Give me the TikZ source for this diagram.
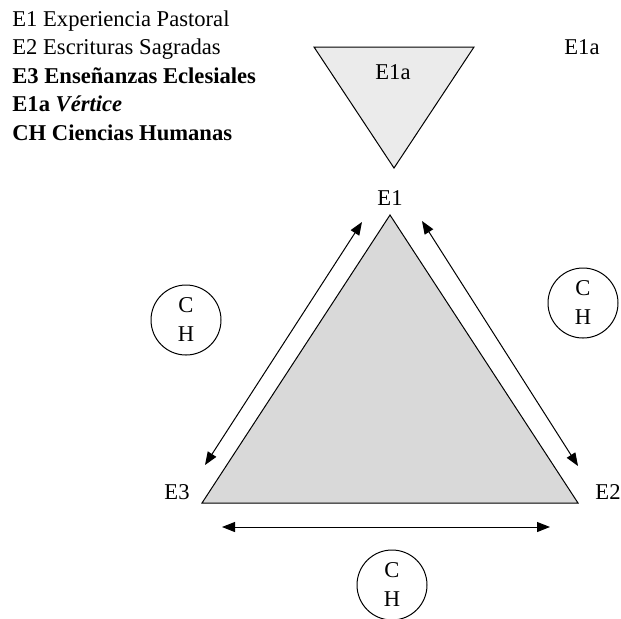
\documentclass[tikz,border=0pt]{standalone}
\usepackage{fontspec}
\setmainfont{Liberation Serif}
\usetikzlibrary{arrows.meta,positioning}

\begin{document}
\begin{tikzpicture}[
    x=0.5pt, y=-0.5pt,
    font=\fontsize{11.3}{14.5}\selectfont,
    vlabel/.style={inner sep=0pt},
    chnode/.style={draw, circle, minimum size=35pt, inner sep=0pt, align=center, line width=0.5pt},
    flow/.style={{Triangle[length=6.5pt,width=5pt]}-{Triangle[length=6.5pt,width=5pt]}, line width=0.5pt},
    legend/.style={anchor=base west, inner sep=0pt}
]
\clip (0,0) rectangle (621,618);

% ---- legend ----
\node[legend] (l1) at (12,26) {E1 Experiencia Pastoral};
\node[legend] (l2) at (12,54) {E2 Escrituras Sagradas};
\node[legend, font=\fontsize{11.3}{14.5}\selectfont\bfseries] (l3) at (12,83) {E3 Enseñanzas Eclesiales};
\node[legend, font=\fontsize{11.3}{14.5}\selectfont\bfseries] (l4) at (12,111) {E1a \textit{Vértice}};
\node[legend, font=\fontsize{11.3}{14.5}\selectfont\bfseries] (l5) at (12,140) {CH Ciencias Humanas};

% ---- vertex triangle (E1a) ----
\coordinate (v1) at (314,47);
\coordinate (v2) at (474,47);
\coordinate (v3) at (394,168);
\draw[fill=black!8, line width=0.5pt] (v1) -- (v2) -- (v3) -- cycle;
\node[vlabel] (e1a) at (393,72) {E1a};
\node[vlabel] (e1aout) at (582,47) {E1a};

% ---- main triangle ----
\coordinate (t1) at (390,215);
\coordinate (t2) at (578,503);
\coordinate (t3) at (202,503);
\draw[fill=black!15, line width=0.5pt] (t1) -- (t2) -- (t3) -- cycle;
\node[vlabel] (e1) at (390,198) {E1};
\node[vlabel] (e2) at (608,492) {E2};
\node[vlabel] (e3) at (177,492) {E3};

% ---- arrows ----
\coordinate (a1) at (205,465);
\coordinate (a2) at (362,222);
\coordinate (b1) at (422,221);
\coordinate (b2) at (578,466);
\coordinate (c1) at (222,527);
\coordinate (c2) at (550,527);
\draw[flow] (a1) -- (a2);
\draw[flow] (b1) -- (b2);
\draw[flow] (c1) -- (c2);

% ---- human sciences ----
\node[chnode] (chl) at (186,320) {C\\H};
\node[chnode] (chr) at (583,303) {C\\H};
\node[chnode] (chb) at (392,585) {C\\H};

\end{tikzpicture}
\end{document}
